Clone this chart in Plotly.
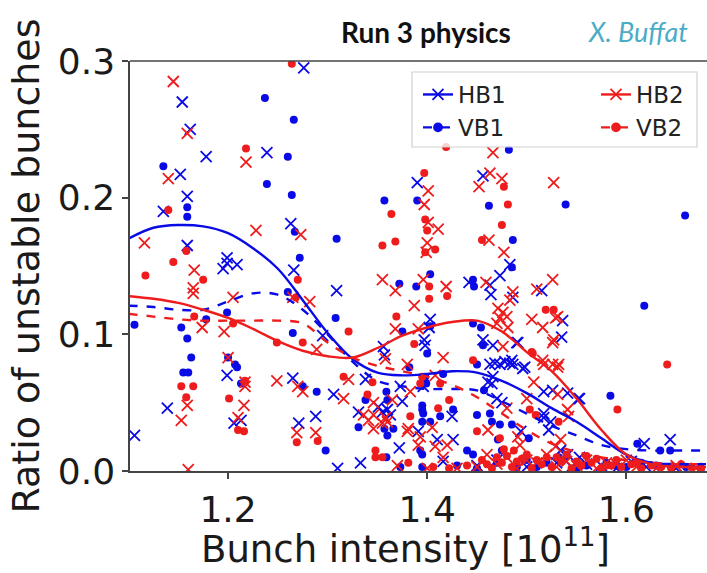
import plotly.graph_objects as go

# ---------------- data ----------------
# smooth trend curves
curve_x = [1.10, 1.125, 1.15, 1.175, 1.20, 1.225, 1.25, 1.275, 1.30, 1.325, 1.35, 1.375,
           1.40, 1.425, 1.45, 1.475, 1.50, 1.525, 1.55, 1.575, 1.60, 1.625, 1.65, 1.68]
hb1_curve = [0.170, 0.178, 0.180, 0.179, 0.174, 0.163, 0.148, 0.125, 0.101, 0.082, 0.072, 0.070,
             0.071, 0.073, 0.072, 0.066, 0.057, 0.046, 0.036, 0.024, 0.012, 0.006, 0.005, 0.005]
vb1_curve = [0.121, 0.120, 0.118, 0.118, 0.124, 0.130, 0.129, 0.118, 0.100, 0.080, 0.066, 0.062,
             0.060, 0.060, 0.059, 0.051, 0.042, 0.033, 0.026, 0.019, 0.016, 0.015, 0.015, 0.015]
hb2_curve = [0.128, 0.126, 0.123, 0.118, 0.112, 0.104, 0.095, 0.088, 0.084, 0.083, 0.090, 0.099,
             0.105, 0.109, 0.110, 0.102, 0.087, 0.073, 0.053, 0.030, 0.012, 0.005, 0.003, 0.003]
vb2_curve = [0.115, 0.113, 0.111, 0.110, 0.110, 0.110, 0.110, 0.108, 0.094, 0.083, 0.077, 0.073,
             0.069, 0.063, 0.054, 0.042, 0.030, 0.020, 0.014, 0.010, 0.008, 0.006, 0.005, 0.005]

# scattered measurements
hb1_x = [1.154, 1.162, 1.178, 1.152, 1.159, 1.135, 1.159, 1.199, 1.276, 1.239, 1.263,
         1.195, 1.199, 1.209, 1.266, 1.295, 1.139, 1.106, 1.199, 1.206, 1.213, 1.265, 1.271, 1.288,
         1.390, 1.456, 1.309, 1.442, 1.403, 1.402, 1.397, 1.398, 1.356,
         1.483, 1.473, 1.463, 1.464, 1.486, 1.515, 1.536, 1.535, 1.456, 1.466, 1.491,
         1.357, 1.338, 1.373, 1.396, 1.306, 1.375, 1.351, 1.360, 1.363, 1.331, 1.355, 1.425,
         1.391, 1.410, 1.426, 1.372, 1.333, 1.416,
         1.463, 1.468, 1.473, 1.478, 1.485, 1.486, 1.496, 1.466, 1.461, 1.465, 1.517, 1.526,
         1.541, 1.552, 1.553, 1.470, 1.475, 1.517, 1.517, 1.524, 1.494, 1.522, 1.534, 1.541,
         1.553, 1.644, 1.618, 1.490, 1.483, 1.498,
         1.450, 1.500, 1.560, 1.590, 1.620, 1.650, 1.310, 1.470, 1.530, 1.575, 1.605, 1.545]
hb1_y = [0.270, 0.250, 0.230, 0.217, 0.201, 0.190, 0.165, 0.156, 0.295, 0.233, 0.181,
         0.148, 0.152, 0.151, 0.147, 0.099, 0.046, 0.026, 0.070, 0.035, 0.037, 0.068, 0.035, 0.040,
         0.211, 0.216, 0.132, 0.138, 0.111, 0.105, 0.096, 0.092, 0.091,
         0.151, 0.143, 0.136, 0.129, 0.127, 0.132, 0.110, 0.098, 0.096, 0.092, 0.094,
         0.085, 0.067, 0.062, 0.062, 0.056, 0.051, 0.047, 0.045, 0.041, 0.043, 0.043, 0.040,
         0.029, 0.023, 0.023, 0.017, 0.006, 0.007,
         0.078, 0.079, 0.078, 0.080, 0.081, 0.078, 0.075, 0.069, 0.065, 0.064, 0.058, 0.059,
         0.057, 0.053, 0.053, 0.053, 0.050, 0.042, 0.039, 0.036, 0.029, 0.030, 0.015, 0.012,
         0.010, 0.023, 0.020, 0.094, 0.079, 0.076,
         0.004, 0.003, 0.005, 0.002, 0.003, 0.002, 0.002, 0.008, 0.006, 0.004, 0.007, 0.003]

vb1_x = [1.135, 1.159, 1.159, 1.237, 1.266, 1.260, 1.239, 1.264, 1.267, 1.272,
         1.260, 1.199, 1.178, 1.106, 1.153, 1.159, 1.265, 1.163, 1.155, 1.160, 1.200, 1.207,
         1.209, 1.213, 1.275, 1.289, 1.298,
         1.482, 1.357, 1.390, 1.462, 1.309, 1.486, 1.539, 1.659,
         1.372, 1.389, 1.403, 1.308, 1.375, 1.403, 1.400,
         1.485, 1.446, 1.447, 1.446, 1.454, 1.456,
         1.382, 1.398, 1.399, 1.416, 1.359, 1.338, 1.360, 1.395, 1.395, 1.396, 1.413, 1.426,
         1.331, 1.357, 1.366, 1.395, 1.403, 1.360, 1.393, 1.395, 1.359, 1.373, 1.395, 1.440,
         1.450, 1.457, 1.584, 1.450, 1.463, 1.465, 1.473, 1.485, 1.502, 1.471, 1.475, 1.446,
         1.532, 1.540, 1.500, 1.520, 1.611, 1.634, 1.644, 1.618,
         1.560, 1.580, 1.600, 1.630, 1.660, 1.450, 1.470, 1.490, 1.430,
         1.510, 1.550, 1.590, 1.615, 1.645, 1.675]
vb1_y = [0.223, 0.193, 0.186, 0.273, 0.257, 0.230, 0.210, 0.202, 0.175, 0.156,
         0.131, 0.116, 0.111, 0.107, 0.105, 0.097, 0.101, 0.083, 0.072, 0.072, 0.083, 0.078,
         0.076, 0.064, 0.062, 0.058, 0.015,
         0.235, 0.198, 0.198, 0.194, 0.170, 0.169, 0.195, 0.187,
         0.137, 0.135, 0.144, 0.112, 0.102, 0.106, 0.086,
         0.149, 0.140, 0.135, 0.108, 0.105, 0.092,
         0.076, 0.069, 0.064, 0.071, 0.058, 0.052, 0.052, 0.048, 0.045, 0.042, 0.040, 0.045,
         0.032, 0.031, 0.031, 0.036, 0.036, 0.026, 0.015, 0.012, 0.010, 0.003, 0.003, 0.015,
         0.078, 0.059, 0.055, 0.041, 0.042, 0.036, 0.034, 0.034, 0.024, 0.023, 0.015, 0.012,
         0.010, 0.011, 0.008, 0.006, 0.020, 0.015, 0.015, 0.121,
         0.004, 0.006, 0.003, 0.004, 0.003, 0.002, 0.006, 0.003, 0.004,
         0.003, 0.002, 0.004, 0.006, 0.003, 0.002]

hb2_x = [1.145, 1.159, 1.140, 1.116, 1.228, 1.218, 1.273,
         1.166, 1.165, 1.165, 1.265, 1.282, 1.205, 1.174, 1.196, 1.289, 1.159, 1.153, 1.160,
         1.200, 1.217, 1.217, 1.216, 1.210, 1.249, 1.270, 1.275, 1.269, 1.288,
         1.466, 1.401, 1.463, 1.475, 1.452, 1.397, 1.401, 1.411, 1.400, 1.462, 1.477, 1.527,
         1.399, 1.355, 1.368, 1.396, 1.419, 1.387, 1.368, 1.391,
         1.459, 1.486, 1.483, 1.471, 1.476, 1.473, 1.480, 1.470, 1.481, 1.510, 1.526, 1.531,
         1.505, 1.516, 1.526, 1.476, 1.529, 1.527,
         1.358, 1.416, 1.380, 1.321, 1.408, 1.383, 1.316, 1.346, 1.365, 1.336, 1.346, 1.341,
         1.358, 1.355, 1.360, 1.346, 1.381, 1.380, 1.405, 1.393, 1.391, 1.408, 1.420, 1.416,
         1.516, 1.526, 1.532, 1.507, 1.531, 1.500, 1.480, 1.541, 1.542, 1.461, 1.491, 1.534,
         1.493, 1.529, 1.517, 1.531,
         1.450, 1.470, 1.490, 1.510, 1.530, 1.550, 1.570, 1.590, 1.610, 1.630, 1.650, 1.670,
         1.480, 1.520, 1.560, 1.430, 1.400, 1.370, 1.500, 1.540, 1.580, 1.600, 1.460]
hb2_y = [0.285, 0.247, 0.214, 0.167, 0.176, 0.226, 0.173,
         0.147, 0.134, 0.130, 0.127, 0.124, 0.127, 0.105, 0.102, 0.089, 0.048, 0.037, 0.001,
         0.083, 0.065, 0.062, 0.048, 0.039, 0.066, 0.062, 0.058, 0.028, 0.028,
         0.233, 0.205, 0.218, 0.214, 0.208, 0.195, 0.182, 0.177, 0.167, 0.169, 0.160, 0.211,
         0.160, 0.140, 0.132, 0.140, 0.135, 0.121, 0.104, 0.104,
         0.138, 0.131, 0.125, 0.119, 0.116, 0.112, 0.113, 0.108, 0.105, 0.133, 0.140, 0.113,
         0.111, 0.105, 0.094, 0.091, 0.112, 0.096,
         0.082, 0.083, 0.078, 0.067, 0.070, 0.058, 0.053, 0.050, 0.052, 0.041, 0.041, 0.037,
         0.039, 0.035, 0.036, 0.031, 0.031, 0.029, 0.032, 0.025, 0.019, 0.018, 0.019, 0.010,
         0.081, 0.078, 0.078, 0.065, 0.056, 0.053, 0.046, 0.045, 0.040, 0.030, 0.025, 0.023,
         0.019, 0.018, 0.078, 0.076,
         0.003, 0.005, 0.002, 0.006, 0.003, 0.004, 0.002, 0.005, 0.003, 0.002, 0.004, 0.002,
         0.010, 0.012, 0.008, 0.002, 0.002, 0.004, 0.008, 0.007, 0.006, 0.008, 0.012]

vb2_x = [1.264, 1.218, 1.140, 1.158,
         1.145, 1.117, 1.175, 1.270, 1.268, 1.166, 1.205, 1.275, 1.249, 1.153, 1.165, 1.158,
         1.217, 1.201, 1.210, 1.216, 1.269, 1.290,
         1.419, 1.397, 1.477, 1.481, 1.364, 1.398, 1.400, 1.475, 1.355, 1.368, 1.398, 1.408, 1.455,
         1.402, 1.420, 1.402, 1.321, 1.369, 1.387,
         1.519, 1.527, 1.505,
         1.316, 1.345, 1.395, 1.393, 1.413, 1.340, 1.422, 1.383, 1.411, 1.348, 1.348, 1.355,
         1.381, 1.406, 1.422,
         1.446, 1.506, 1.591, 1.641, 1.503, 1.509, 1.532, 1.450, 1.473, 1.477, 1.487,
         1.440, 1.455, 1.465, 1.475, 1.485, 1.495, 1.505, 1.515, 1.525, 1.535, 1.545, 1.555,
         1.565, 1.575, 1.585, 1.595, 1.605, 1.615, 1.625, 1.635, 1.645, 1.655, 1.665, 1.675,
         1.500, 1.520, 1.480, 1.540,
         1.460, 1.470, 1.490, 1.510, 1.530, 1.550, 1.570, 1.590, 1.610, 1.560, 1.580]
vb2_y = [0.298, 0.236, 0.191, 0.161,
         0.153, 0.143, 0.140, 0.140, 0.127, 0.113, 0.108, 0.094, 0.094, 0.062, 0.062, 0.054,
         0.066, 0.053, 0.030, 0.029, 0.021, 0.022,
         0.237, 0.218, 0.208, 0.195, 0.188, 0.184, 0.176, 0.180, 0.165, 0.168, 0.160, 0.162, 0.169,
         0.135, 0.128, 0.126, 0.102, 0.113, 0.093,
         0.118, 0.118, 0.087,
         0.069, 0.065, 0.069, 0.064, 0.064, 0.056, 0.052, 0.040, 0.046, 0.015, 0.010, 0.010,
         0.006, 0.003, 0.002,
         0.081, 0.086, 0.045, 0.078, 0.045, 0.041, 0.036, 0.029, 0.024, 0.016, 0.015,
         0.004, 0.008, 0.002, 0.006, 0.003, 0.009, 0.002, 0.005, 0.003, 0.007, 0.002, 0.004,
         0.006, 0.002, 0.004, 0.003, 0.005, 0.002, 0.004, 0.003, 0.002, 0.005, 0.003, 0.002,
         0.012, 0.010, 0.011, 0.012,
         0.005, 0.010, 0.007, 0.008, 0.010, 0.007, 0.009, 0.008, 0.006, 0.011, 0.004]

x_ticks = [1.2, 1.4, 1.6]
y_ticks = [0.0, 0.1, 0.2, 0.3]

BLUE = "#0a0ae6"
RED = "#ee1c1c"
FONT = "DejaVu Sans"
TXT = "#1a1a1a"

fig = go.Figure()


def xs(x, y, color):
    fig.add_trace(go.Scatter(x=x, y=y, mode="markers", showlegend=False,
                             marker=dict(symbol="x-thin", size=11, color=color,
                                         line=dict(width=1.8, color=color))))


def dots(x, y, color):
    fig.add_trace(go.Scatter(x=x, y=y, mode="markers", showlegend=False,
                             marker=dict(symbol="circle", size=8, color=color,
                                         line=dict(width=0))))


xs(hb1_x, hb1_y, BLUE)
dots(vb1_x, vb1_y, BLUE)
xs(hb2_x, hb2_y, RED)
dots(vb2_x, vb2_y, RED)


def curve(y, color, dash):
    fig.add_trace(go.Scatter(x=curve_x, y=y, mode="lines", showlegend=False,
                             line=dict(color=color, width=2.4, dash=dash, shape="spline",
                                       smoothing=1.0)))


curve(hb1_curve, BLUE, "solid")
curve(vb1_curve, BLUE, "dash")
curve(hb2_curve, RED, "solid")
curve(vb2_curve, RED, "dash")


# legend entries (two columns = two legends)
def leg(name, color, dash, symbol, size, legend):
    fig.add_trace(go.Scatter(x=[None], y=[None], mode="lines+markers", name=name,
                             legend=legend, legendgroup=name,
                             line=dict(color=color, width=2.4, dash=dash),
                             marker=dict(symbol=symbol, size=size, color=color,
                                         line=dict(width=1.8, color=color))))


leg("HB1", BLUE, "solid", "x-thin", 11, "legend")
leg("VB1", BLUE, "dash", "circle", 8, "legend")
leg("HB2", RED, "solid", "x-thin", 11, "legend2")
leg("VB2", RED, "dash", "circle", 8, "legend2")

L, T, W, H = 130, 61, 577, 410


def px_x(p):
    return (p - L) / W


def px_y(p):
    return (T + H - p) / H


leg_common = dict(orientation="v", yanchor="top", xanchor="left", tracegroupgap=9,
                  font=dict(size=23, family=FONT, color="#222"),
                  bgcolor="rgba(0,0,0,0)", borderwidth=0, traceorder="normal")

fig.update_layout(
    width=707, height=573,
    margin=dict(l=L, r=707 - L - W, t=T, b=573 - T - H),
    paper_bgcolor="white", plot_bgcolor="white",
    font=dict(family=FONT, color=TXT),
    showlegend=True,
    legend=dict(x=px_x(418), y=px_y(73), **leg_common),
    legend2=dict(x=px_x(596), y=px_y(73), **leg_common),
    xaxis=dict(range=[1.1015, 1.681], tickvals=x_ticks, ticktext=[f"{v:.1f}" for v in x_ticks],
               ticks="outside", ticklen=6, tickwidth=1.5, tickcolor="#444",
               showline=True, linecolor="#444", linewidth=1.5, showgrid=False, zeroline=False,
               tickfont=dict(size=36, family=FONT, color=TXT)),
    yaxis=dict(range=[0, 0.3], tickvals=y_ticks, ticktext=[f"{v:.1f}" for v in y_ticks],
               ticks="outside", ticklen=6, tickwidth=1.5, tickcolor="#444",
               showline=True, linecolor="#444", linewidth=1.5, showgrid=False, zeroline=False,
               tickfont=dict(size=36, family=FONT, color=TXT),
               title=dict(text="Ratio of unstable bunches", standoff=6,
                          font=dict(size=38, family=FONT, color=TXT))),
    shapes=[
        dict(type="line", xref="paper", yref="paper", x0=0, x1=1, y0=1, y1=1,
             line=dict(color="#444", width=1.5)),
        dict(type="rect", xref="paper", yref="paper", layer="above",
             x0=px_x(412), x1=px_x(697), y0=px_y(147), y1=px_y(72),
             fillcolor="rgba(255,255,255,0.8)", line=dict(color="#d0d0d0", width=1.2)),
    ],
    annotations=[
        dict(text="Bunch intensity [10<sup>11</sup>]", xref="paper", yref="paper",
             x=px_x(405), y=px_y(546), xanchor="center", yanchor="middle", showarrow=False,
             font=dict(size=37, family=FONT, color=TXT)),
        dict(text="<b>Run 3 physics</b>", xref="paper", yref="paper", x=px_x(426),
             y=px_y(32), xanchor="center", yanchor="middle", showarrow=False,
             font=dict(family="Lato", size=28, color="#111")),
        dict(text="<i>X. Buffat</i>", xref="paper", yref="paper", x=px_x(638),
             y=px_y(32), xanchor="center", yanchor="middle", showarrow=False,
             font=dict(family="Lato", size=27, color="#4BACC6")),
    ],
)

fig.write_html("out.html")
